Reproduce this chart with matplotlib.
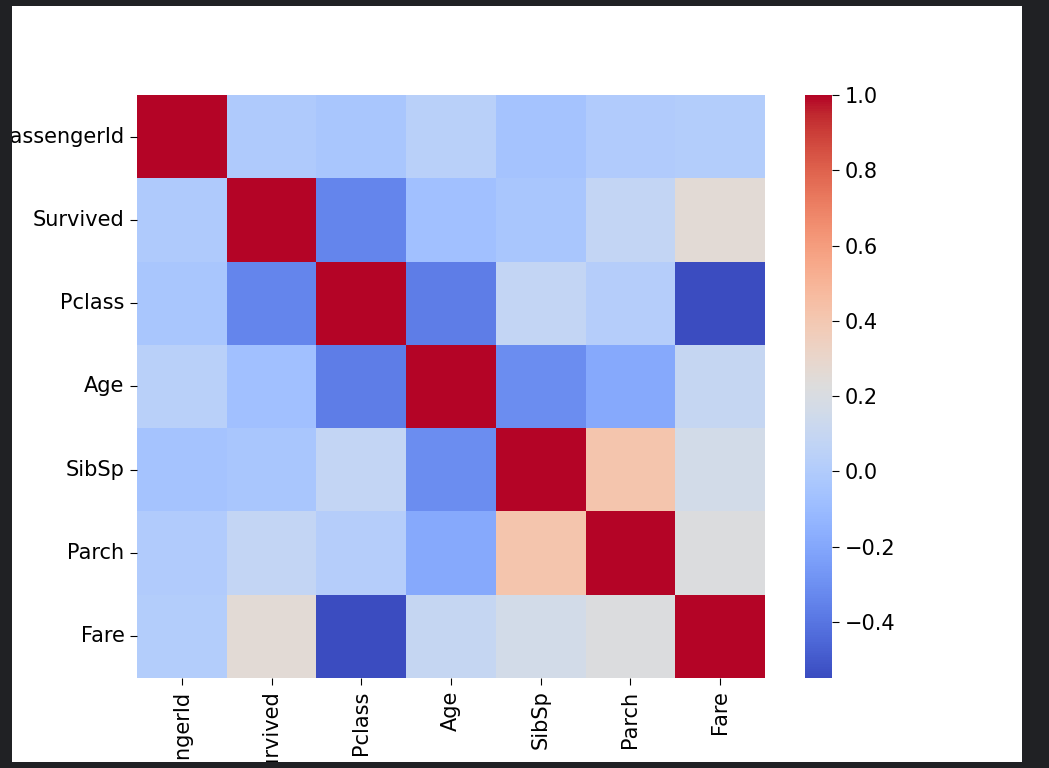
import numpy as np
import matplotlib
matplotlib.use("Agg")
import matplotlib.pyplot as plt
import seaborn as sns
from matplotlib.patches import Rectangle

cols = ["PassengerId", "Survived", "Pclass", "Age", "SibSp", "Parch", "Fare"]
corr = np.array([
    [1.000, -0.005, -0.035, 0.037, -0.058, -0.001, 0.013],
    [-0.005, 1.000, -0.338, -0.077, -0.035, 0.082, 0.257],
    [-0.035, -0.338, 1.000, -0.369, 0.083, 0.018, -0.549],
    [0.037, -0.077, -0.369, 1.000, -0.308, -0.189, 0.096],
    [-0.058, -0.035, 0.083, -0.308, 1.000, 0.415, 0.160],
    [-0.001, 0.082, 0.018, -0.189, 0.415, 1.000, 0.216],
    [0.013, 0.257, -0.549, 0.096, 0.160, 0.216, 1.000],
])

fig = plt.figure(figsize=(10.49, 7.68), dpi=100, facecolor="#202124")
fig.add_artist(Rectangle((0, 0), 1, 1, transform=fig.transFigure,
                         facecolor="white", edgecolor="none", zorder=-5))
ax = fig.add_axes([0.1306, 0.1172, 0.5987, 0.7591])
cax = fig.add_axes([0.7674, 0.1172, 0.0257, 0.7591])
sns.heatmap(corr, cmap="coolwarm", xticklabels=cols, yticklabels=cols,
            ax=ax, cbar_ax=cax)
ax.tick_params(labelsize=15, length=5, pad=4)
cax.tick_params(labelsize=15, length=5, pad=4)
plt.setp(ax.get_xticklabels(), rotation=90)
plt.setp(ax.get_yticklabels(), rotation=0)

# dark screenshot border on top
bc = "#202124"
W, H = 1049, 768
for x, y, w, h in [(0, 0, 12, H), (0, 0, W, 6), (1022, 0, W - 1022, H), (0, H - 6, W, 6)]:
    fig.add_artist(Rectangle((x / W, y / H), w / W, h / H, transform=fig.transFigure,
                             facecolor=bc, edgecolor="none", zorder=20))

fig.savefig("out.png", dpi=100, facecolor=fig.get_facecolor())
